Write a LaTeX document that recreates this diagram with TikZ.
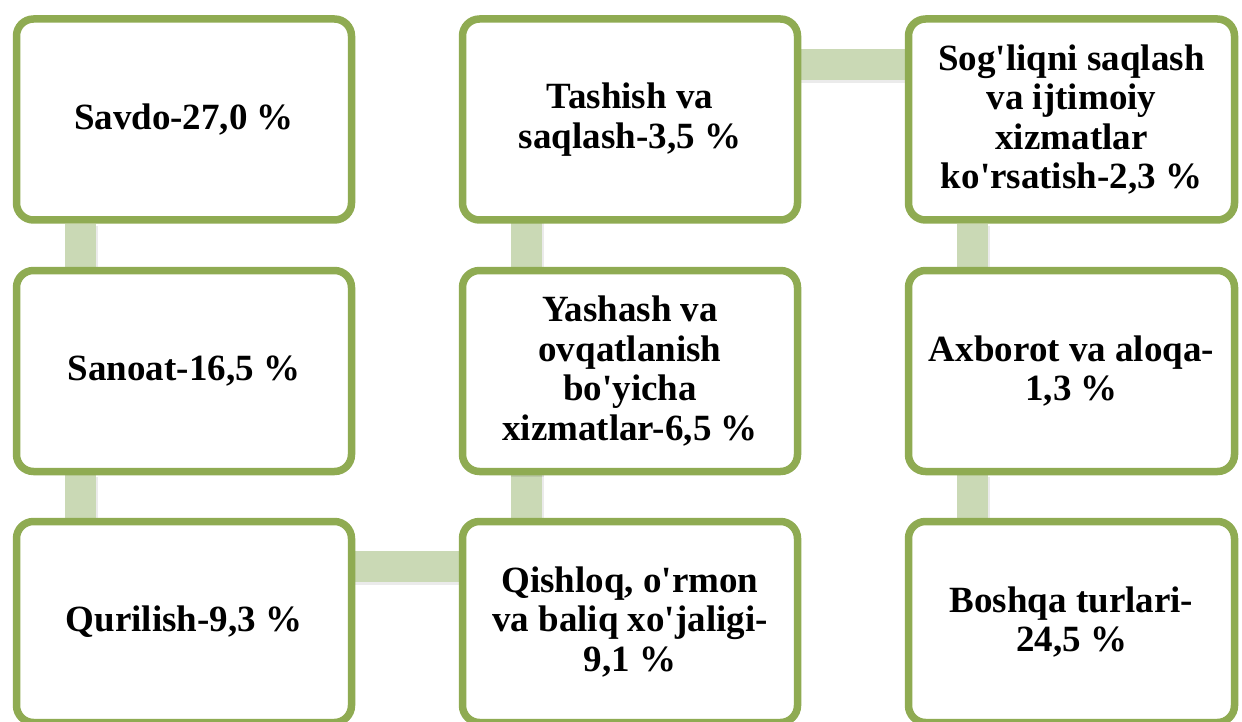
\documentclass[tikz,border=0pt]{standalone}
\usepackage{fontspec}
\setmainfont{Liberation Serif}[Ligatures=TeXOff]
\usetikzlibrary{shadows}
\definecolor{boxgreen}{HTML}{8FAB52}
\definecolor{conngreen}{HTML}{CAD9B5}
\pgfdeclarelayer{bg}
\pgfsetlayers{bg,main}
\tikzset{
  card/.style={draw=boxgreen, line width=7.5pt, fill=white, rounded corners=17pt,
    minimum width=335pt, minimum height=201pt, inner sep=0pt, align=center,
    font=\fontsize{37}{39.5}\selectfont\bfseries,
    drop shadow={shadow xshift=1.5pt, shadow yshift=-3pt, opacity=0.22, fill=black!70}},
  narrowcard/.style={card, minimum width=326pt},
  conn/.style={draw=conngreen, line width=31pt, line cap=butt},
  connshade/.style={draw=black, opacity=0.08, line width=33pt, line cap=butt}
}
\begin{document}
\begin{tikzpicture}[x=1pt,y=-1pt]
\useasboundingbox (0,0) rectangle (1242,722);
% column 1
\node[card] (a1) at (184,119.5) {Savdo-27,0 \%};
\node[card] (a2) at (184,371) {Sanoat-16,5 \%};
\node[card] (a3) at (184,622) {Qurilish-9,3 \%};
% column 2
\node[card] (b3) at (630,622) {Qishloq, o'rmon\\va baliq xo'jaligi-\\9,1 \%};
\node[card] (b2) at (630,371) {Yashash va\\ovqatlanish\\bo'yicha\\xizmatlar-6,5 \%};
\node[card] (b1) at (630,119.5) {Tashish va\\saqlash-3,5 \%};
% column 3
\node[narrowcard] (c1) at (1071.5,119.5) {Sog'liqni saqlash\\va ijtimoiy\\xizmatlar\\ko'rsatish-2,3 \%};
\node[narrowcard] (c2) at (1071.5,371) {Axborot va aloqa-\\1,3 \%};
\node[narrowcard] (c3) at (1071.5,622) {Boshqa turlari-\\24,5 \%};
\begin{pgfonlayer}{bg}
  % vertical connectors
  \foreach \u/\v in {a1/a2,a2/a3,b3/b2,b2/b1,c1/c2,c2/c3}{
    \draw[connshade] ([xshift=69pt,yshift=-2pt]\u.south west |- \u.south) -- ([xshift=69pt,yshift=-2pt]\v.north west |- \v.north);
    \draw[conn] ([xshift=68pt]\u.south west |- \u.south) -- ([xshift=68pt]\v.north west |- \v.north);
  }
  \draw[connshade] ([yshift=-51pt]a3.north east) -- ([yshift=-51pt]b3.north west);
  \draw[conn] ([yshift=-49pt]a3.north east) -- ([yshift=-49pt]b3.north west);
  \draw[connshade] ([yshift=-51pt]b1.north east) -- ([yshift=-51pt]c1.north west);
  \draw[conn] ([yshift=-49pt]b1.north east) -- ([yshift=-49pt]c1.north west);
\end{pgfonlayer}
\end{tikzpicture}
\end{document}
